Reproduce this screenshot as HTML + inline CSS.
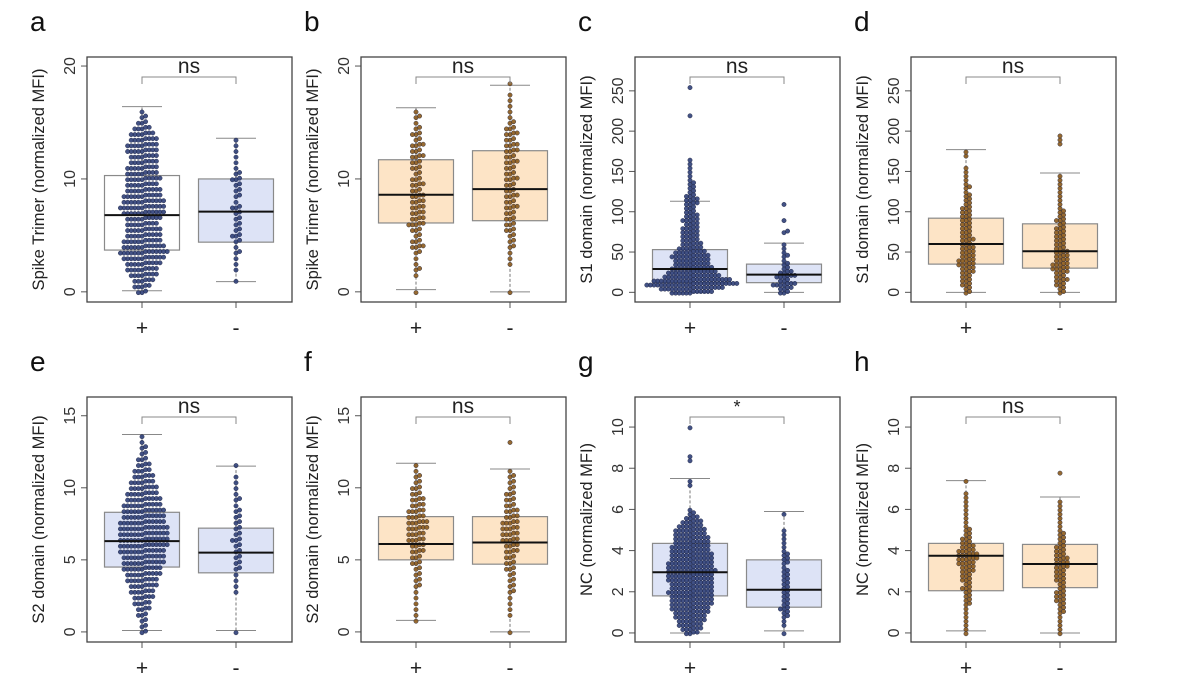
<!DOCTYPE html>
<html><head><meta charset="utf-8">
<style>
html,body{margin:0;padding:0;background:#fff;}
svg{display:block;font-family:"Liberation Sans",sans-serif;}
</style></head>
<body>
<svg id="fig" width="1200" height="694" viewBox="0 0 1200 694"></svg>
<script>
// ----- data (counts per bin of beeswarm, boxplot stats: [whiskerLow, q1, median, q3, whiskerHigh]) -----
const groupLabels = ["+", "-"];
const aTicks = [0, 10, 20];
const cTicks = [0, 50, 100, 150, 200, 250];
const eTicks = [0, 5, 10, 15];
const gTicks = [0, 2, 4, 6, 8, 10];

const aPlusStats = [0.1, 3.7, 6.8, 10.3, 16.4];
const aMinusStats = [0.9, 4.4, 7.1, 10.0, 13.6];
const aPlusCounts = [3,5,6,8,9,10,12,14,12,11,10,10,9,10,12,13,12,11,10,9,10,9,9,8,8,9,9,8,7,5,3,2,1];
const aMinusCounts = [0,0,1,0,1,1,1,2,1,2,3,2,2,2,2,3,1,2,2,2,3,2,1,1,1,1,1,1];

const bPlusStats = [0.2, 6.1, 8.6, 11.7, 16.3];
const bMinusStats = [0.0, 6.3, 9.1, 12.5, 18.3];
const bPlusCounts = [1,0,0,1,2,1,1,2,4,3,2,3,5,4,4,4,4,4,3,4,3,2,3,3,4,3,4,2,3,2,1,2,1];
const bMinusCounts = [1,0,0,0,0,1,1,1,2,2,2,3,3,3,3,4,3,4,3,3,4,3,3,4,3,4,4,3,4,3,2,1,1,1,1,1,0,1];

const cPlusStats = [0, 12, 29, 53, 113];
const cMinusStats = [0, 12, 22, 35, 61];
const cPlusCounts = [12,18,26,22,16,14,12,10,10,11,9,7,6,5,5,5,5,4,5,4,3,3,4,4,3,2,2,2,1,1,1,1,1,1,0,0,0,0,0,0,0,0,0,0,1,0,0,0,0,0,0,1];
const cMinusCounts = [3,4,7,3,6,4,2,2,1,2,1,1,1,0,0,2,0,0,1,0,0,0,1];

const dPlusStats = [0, 35, 60, 92, 177];
const dMinusStats = [0, 30, 51, 85, 148];
const dPlusCounts = [2,2,3,3,3,4,4,5,5,4,4,4,3,4,3,3,3,3,3,3,3,3,2,2,2,1,2,1,1,1,1,1,0,0,1,1];
const dMinusCounts = [2,2,3,4,3,4,5,5,4,4,4,3,3,3,3,3,3,2,3,2,2,1,1,1,1,1,1,1,1,1,0,0,0,0,0,0,0,1,1,1];

const ePlusStats = [0.1, 4.5, 6.3, 8.3, 13.7];
const eMinusStats = [0.1, 4.1, 5.5, 7.2, 11.5];
const ePlusCounts = [2,2,2,3,4,5,6,7,8,9,10,11,12,12,13,14,14,14,14,13,12,12,11,10,9,8,7,6,5,4,3,2,2,1,1];
const eMinusCounts = [1,0,0,0,0,0,0,1,1,1,1,2,2,2,2,2,3,2,2,2,2,2,1,2,1,1,1,1,0,1];

const fPlusStats = [0.8, 5.0, 6.1, 8.0, 11.7];
const fMinusStats = [0.0, 4.7, 6.2, 8.0, 11.3];
const fPlusCounts = [0,0,1,1,1,1,1,1,2,2,2,2,3,3,4,4,5,5,6,6,5,5,4,4,3,3,2,2,1,1];
const fMinusCounts = [1,0,0,1,1,1,1,2,2,2,2,3,3,3,4,4,5,5,5,5,4,4,3,3,3,2,2,2,1,0,0,0,0,1];

const gPlusStats = [0.0, 1.8, 2.95, 4.35, 7.5];
const gMinusStats = [0.1, 1.25, 2.1, 3.55, 5.9];
const gPlusCounts = [4,6,7,8,9,10,11,12,12,12,13,12,12,13,13,14,13,13,12,12,11,11,10,10,9,9,7,6,4,2,1,0,0,0,0,0,1,1,0,0,0,0,1,1,0,0,0,0,0,0,1];
const gMinusCounts = [1,0,1,1,2,2,3,2,2,2,2,2,2,2,2,2,1,2,2,2,1,1,1,1,1,1,0,0,0,1];

const hPlusStats = [0.1, 2.05, 3.75, 4.35, 7.4];
const hMinusStats = [0.0, 2.2, 3.35, 4.3, 6.6];
const hPlusCounts = [1,1,1,1,1,1,1,2,2,2,2,3,2,3,3,4,4,5,6,6,5,4,3,3,2,2,1,1,1,1,1,1,1,1,1,0,0,1];
const hMinusCounts = [1,1,1,1,1,2,2,2,3,3,3,2,2,3,3,3,4,4,4,3,3,3,2,2,2,1,1,1,1,1,1,1,1,0,0,0,0,0,0,1];

// ----- rendering -----
const NS = "http://www.w3.org/2000/svg";
const svg = document.getElementById("fig");
function mk(tag, attrs, parent) {
  const e = document.createElementNS(NS, tag);
  for (const k in attrs) e.setAttribute(k, attrs[k]);
  (parent || svg).appendChild(e);
  return e;
}
const WHITE = "#ffffff", BLUE = "#dde3f6", ORANGE = "#fde4c6";
const DOTB = "#2f3f78", DOTO = "#8b5a1c";

const panels = [
  {id:"a", left:87, top:57, min:-0.9, max:20.8, ticks:aTicks, step:0.5, title:"Spike Trimer (normalized MFI)", sig:"ns",
   g:[[aPlusStats,aPlusCounts,WHITE,DOTB],[aMinusStats,aMinusCounts,BLUE,DOTB]]},
  {id:"b", left:361, top:57, min:-0.9, max:20.8, ticks:aTicks, step:0.5, title:"Spike Trimer (normalized MFI)", sig:"ns",
   g:[[bPlusStats,bPlusCounts,ORANGE,DOTO],[bMinusStats,bMinusCounts,ORANGE,DOTO]]},
  {id:"c", left:635, top:57, min:-12, max:292, ticks:cTicks, step:5, title:"S1 domain (normalized MFI)", sig:"ns",
   g:[[cPlusStats,cPlusCounts,BLUE,DOTB],[cMinusStats,cMinusCounts,BLUE,DOTB]]},
  {id:"d", left:911, top:57, min:-12, max:292, ticks:cTicks, step:5, title:"S1 domain (normalized MFI)", sig:"ns",
   g:[[dPlusStats,dPlusCounts,ORANGE,DOTO],[dMinusStats,dMinusCounts,ORANGE,DOTO]]},
  {id:"e", left:87, top:397, min:-0.7, max:16.3, ticks:eTicks, step:0.4, title:"S2 domain (normalized MFI)", sig:"ns",
   g:[[ePlusStats,ePlusCounts,BLUE,DOTB],[eMinusStats,eMinusCounts,BLUE,DOTB]]},
  {id:"f", left:361, top:397, min:-0.7, max:16.3, ticks:eTicks, step:0.4, title:"S2 domain (normalized MFI)", sig:"ns",
   g:[[fPlusStats,fPlusCounts,ORANGE,DOTO],[fMinusStats,fMinusCounts,ORANGE,DOTO]]},
  {id:"g", left:635, top:397, min:-0.44, max:11.46, ticks:gTicks, step:0.2, title:"NC (normalized MFI)", sig:"*",
   g:[[gPlusStats,gPlusCounts,BLUE,DOTB],[gMinusStats,gMinusCounts,BLUE,DOTB]]},
  {id:"h", left:911, top:397, min:-0.44, max:11.46, ticks:gTicks, step:0.2, title:"NC (normalized MFI)", sig:"ns",
   g:[[hPlusStats,hPlusCounts,ORANGE,DOTO],[hMinusStats,hMinusCounts,ORANGE,DOTO]]}
];

const W = 205, H = 245, GX = [55, 149], BOXW = 75, CAPW = 40, DX = 3.6;

panels.forEach(p => {
  const grp = mk("g", {});
  
  
  const y = v => p.top + H - (v - p.min) / (p.max - p.min) * H;
  const x = i => p.left + GX[i];

  const letter = mk("text", {x: p.left - 57, y: p.top - 26, "font-size": 28, fill: "#111"}, grp);
  letter.textContent = p.id;
  
  

  p.ticks.forEach(t => {
    mk("line", {x1: p.left - 6, x2: p.left, y1: y(t), y2: y(t), stroke: "#555", "stroke-width": 1}, grp);
    const tl = mk("text", {x: 0, y: 0, "font-size": 16, fill: "#333", "text-anchor": "middle",
      transform: `translate(${p.left - 12},${y(t)}) rotate(-90)`}, grp);
    tl.textContent = t;
    
    
  });
  const yt = mk("text", {x: 0, y: 0, "font-size": 16.5, fill: "#222", "text-anchor": "middle",
    transform: `translate(${p.left - 43},${p.top + H / 2}) rotate(-90)`}, grp);
  yt.textContent = p.title;
  
  

  p.g.forEach((gd, i) => {
    const [st, counts, fill, dot] = gd;
    const cx = x(i);
    mk("line", {x1: cx, x2: cx, y1: y(st[0]), y2: y(st[1]), stroke: "#777", "stroke-dasharray": "3,2", "stroke-width": 1}, grp);
    mk("line", {x1: cx, x2: cx, y1: y(st[3]), y2: y(st[4]), stroke: "#777", "stroke-dasharray": "3,2", "stroke-width": 1}, grp);
    [st[0], st[4]].forEach(v => {
      const cap = mk("line", {x1: cx - CAPW / 2, x2: cx + CAPW / 2, y1: y(v), y2: y(v), stroke: "#888", "stroke-width": 1}, grp);
      
      
    });
    const box = mk("rect", {x: cx - BOXW / 2, y: y(st[3]), width: BOXW, height: y(st[1]) - y(st[3]),
      fill: fill, stroke: "#8a8a8a", "stroke-width": 1.2}, grp);
    
    
    counts.forEach((c, b) => {
      const v = b * p.step;
      for (let k = 0; k < c; k++) {
        const off = (k === 0 ? 0 : (k % 2 ? 1 : -1) * Math.ceil(k / 2)) * DX;
        const vy = y(v) + (k % 2 ? -1 : 1) * 0.8;
        const pt = mk("circle", {cx: cx + off, cy: vy, r: 2.2, fill: dot, stroke: "#1a1f3a", "stroke-width": 0.4, "fill-opacity": 0.9}, grp);
        
        
      }
    });
    const med = mk("line", {x1: cx - BOXW / 2, x2: cx + BOXW / 2, y1: y(st[2]), y2: y(st[2]), stroke: "#111", "stroke-width": 2}, grp);
    
    
    mk("line", {x1: cx, x2: cx, y1: p.top + H, y2: p.top + H + 6, stroke: "#555", "stroke-width": 1}, grp);
    const xl = mk("text", {x: cx, y: p.top + H + 33, "font-size": 21, fill: "#222", "text-anchor": "middle"}, grp);
    xl.textContent = groupLabels[i];
    
    
  });

  const fr = mk("rect", {x: p.left, y: p.top, width: W, height: H, fill: "none", stroke: "#444", "stroke-width": 1.3}, grp);
  
  

  const by = p.top + 20;
  const br = mk("path", {d: `M${x(0)},${by + 7} V${by} H${x(1)} V${by + 7}`, fill: "none", stroke: "#888", "stroke-width": 1}, grp);
  
  
  const sg = mk("text", {x: (x(0) + x(1)) / 2, y: by - 4, "font-size": p.sig === "*" ? 18 : 21, fill: "#222", "text-anchor": "middle"}, grp);
  sg.textContent = p.sig;
  
  
});
</script>
</body></html>
